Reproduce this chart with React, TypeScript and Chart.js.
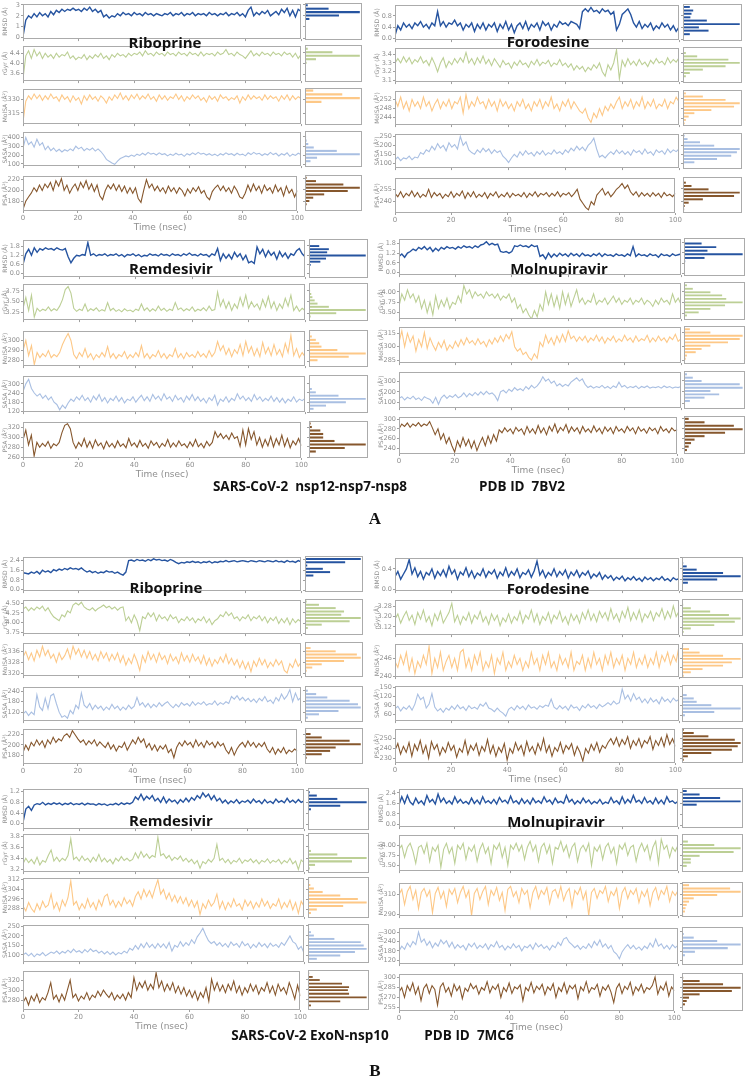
import React, { useEffect, useRef } from "react";
import { Chart, registerables } from "chart.js";
Chart.register(...registerables);

// ---------- shared axis labels / categories ----------
const TIME_NS = Array.from({ length: 101 }, (_, i) => i);
const Y_TITLES = ["RMSD (Å)", "rGyr (Å)", "MolSA (Å²)", "SASA (Å²)", "PSA (Å²)"];
const X_TICKS = [0, 20, 40, 60, 80, 100];
const COLORS = ["#2654a0", "#bccf95", "#fdc887", "#a9bfe2", "#86572d"];
const WIDTHS = [1.4, 1.1, 1.1, 1.1, 1.1];

// ---------- A: nsp12-nsp7-nsp8 / Riboprine ----------
const A1_RMSD = [0.1,1.6,2.0,1.8,2.2,1.9,2.3,2.0,2.2,1.9,2.4,2.1,2.5,2.3,2.6,2.4,2.6,2.5,2.7,2.5,2.6,2.4,2.7,2.5,2.8,2.4,2.6,2.3,2.5,1.9,2.1,1.8,2.0,1.9,2.2,2.0,2.3,2.1,2.2,2.0,2.3,2.1,2.2,2.0,2.3,2.1,2.2,2.0,2.2,2.1,2.0,2.2,2.1,2.3,2.0,2.2,2.1,2.3,2.0,2.2,2.1,2.3,2.0,2.2,2.1,2.2,2.0,2.3,2.1,2.2,2.0,2.2,2.1,2.3,2.0,2.2,2.1,2.3,2.0,2.2,1.9,2.5,2.8,2.0,2.3,2.1,2.4,2.2,2.5,2.0,2.2,2.4,2.1,2.6,2.3,2.7,2.0,2.5,1.9,2.6,2.4];
const A1_RGYR = [3.4,4.3,4.5,4.2,4.55,4.3,4.45,4.2,4.4,4.25,4.35,4.2,4.4,4.25,4.35,4.3,4.45,4.2,4.3,4.15,4.25,4.2,4.35,4.15,4.3,4.2,4.35,4.25,4.4,4.2,4.3,4.15,4.35,4.25,4.4,4.3,4.35,4.25,4.4,4.3,4.4,4.35,4.45,4.3,4.5,4.35,4.4,4.3,4.45,4.35,4.4,4.3,4.45,4.35,4.4,4.3,4.45,4.35,4.4,4.3,4.45,4.35,4.4,4.3,4.45,4.3,4.4,4.35,4.4,4.3,4.45,4.35,4.4,4.55,4.35,4.4,4.3,4.45,4.35,4.3,4.2,4.35,4.5,4.3,4.4,4.3,4.45,4.35,4.4,4.3,4.45,4.35,4.4,4.3,4.45,4.35,4.4,4.25,4.4,4.2,4.35];
const A1_MOLSA = [305,328,334,330,336,331,335,329,334,330,336,331,333,328,335,330,333,327,334,329,332,325,334,329,335,330,333,328,334,331,326,333,329,335,331,337,330,334,329,335,331,336,330,334,331,336,330,333,328,335,330,334,329,333,331,336,330,334,328,333,330,335,331,334,329,332,327,334,330,333,328,335,331,333,329,332,330,334,326,333,329,335,330,334,331,333,329,335,330,334,331,333,328,334,330,335,329,334,330,333,331];
const A1_SASA = [280,400,320,350,290,380,310,340,260,300,250,280,240,265,235,260,245,270,250,300,270,290,250,275,255,280,245,270,240,200,150,130,110,95,130,160,175,190,180,200,185,210,195,220,200,230,210,220,200,225,205,215,190,210,195,220,200,210,185,215,200,225,205,230,210,220,200,215,195,210,190,215,200,225,205,215,195,220,200,210,190,225,205,230,210,220,195,215,200,230,205,220,190,215,200,225,185,210,195,220,205];
const A1_PSA = [165,180,188,195,205,198,210,200,212,205,215,200,218,208,222,200,210,195,205,212,200,215,205,218,202,212,198,210,190,183,200,210,203,212,200,210,198,208,195,205,195,205,185,178,200,220,205,212,200,208,198,205,195,208,198,205,195,205,200,190,203,195,205,198,207,195,200,188,183,198,205,210,200,208,198,205,195,208,200,188,185,195,210,198,212,200,208,195,210,200,205,195,210,198,205,190,208,195,202,188,200];
const A1_RMSD_BINS = [1.7,2.0,2.3,2.6,2.9];
const A1_RMSD_COUNTS = [8,62,100,43,5];
const A1_RGYR_BINS = [4.03,4.16,4.29,4.42,4.55];
const A1_RGYR_COUNTS = [3,20,100,50,5];
const A1_MOLSA_BINS = [327,331,335,339];
const A1_MOLSA_COUNTS = [30,100,68,15];
const A1_SASA_BINS = [100,137,174,211,248,285,322,359,396];
const A1_SASA_COUNTS = [2,10,22,100,58,16,6,3,2];
const A1_PSA_BINS = [174,180,186,192,198,204,210,216,222];
const A1_PSA_COUNTS = [3,8,15,35,78,100,70,20,3];
const A1_TICKS = [[0,1,2,3],[3.6,4.0,4.4],[315,330],[100,200,300,400],[180,200,220]];

// ---------- A: Forodesine ----------
const A2_RMSD = [0.1,0.45,0.3,0.55,0.4,0.5,0.35,0.55,0.45,0.6,0.4,0.5,0.35,0.55,0.45,0.95,0.45,0.6,0.4,0.55,0.5,0.65,0.45,0.55,0.3,0.5,0.4,0.55,0.25,0.5,0.35,0.55,0.3,0.5,0.4,0.55,0.25,0.5,0.35,0.6,0.3,0.5,0.2,0.45,0.55,0.35,0.6,0.3,0.5,0.4,0.55,0.3,0.6,0.45,0.55,0.3,0.5,0.4,0.6,0.5,0.55,0.45,0.6,0.55,0.5,0.35,0.95,1.05,0.95,1.1,0.95,1.0,0.9,1.05,0.95,1.0,0.85,0.95,0.3,0.5,0.85,0.95,1.05,0.85,0.55,0.4,0.6,0.35,0.5,0.4,0.55,0.3,0.45,0.35,0.55,0.4,0.5,0.3,0.45,0.25,0.4];
const A2_RGYR = [3.3,3.35,3.3,3.37,3.31,3.36,3.29,3.34,3.31,3.37,3.3,3.33,3.27,3.36,3.29,3.2,3.3,3.36,3.25,3.32,3.28,3.35,3.3,3.36,3.31,3.42,3.3,3.35,3.28,3.36,3.3,3.38,3.29,3.34,3.27,3.35,3.3,3.25,3.33,3.28,3.3,3.24,3.31,3.27,3.33,3.28,3.3,3.25,3.32,3.28,3.34,3.27,3.31,3.29,3.33,3.26,3.3,3.28,3.34,3.27,3.3,3.25,3.29,3.22,3.27,3.23,3.26,3.2,3.25,3.22,3.28,3.24,3.3,3.2,3.15,3.28,3.22,3.3,3.45,3.12,3.33,3.26,3.35,3.28,3.32,3.27,3.34,3.28,3.31,3.26,3.33,3.29,3.35,3.3,3.32,3.28,3.36,3.3,3.34,3.31,3.36];
const A2_MOLSA = [252,249,253,248,251,247,252,249,251,248,253,249,251,247,250,252,248,251,249,252,248,251,250,253,246,254,248,251,249,253,250,251,248,252,249,251,247,252,249,251,248,250,247,251,249,252,248,250,247,251,249,252,248,251,249,253,248,250,247,251,249,252,248,251,249,247,246,248,244,242,246,244,248,245,249,247,250,248,251,253,248,251,249,252,248,251,249,253,248,251,249,252,248,250,249,252,248,251,250,253,251];
const A2_SASA = [120,135,115,130,125,140,120,135,130,160,150,175,165,195,175,210,185,200,170,215,190,205,180,250,200,220,175,160,150,175,160,185,165,180,155,175,160,170,140,125,105,130,150,135,165,145,170,150,160,140,165,150,170,145,160,150,175,155,165,150,175,160,185,170,195,175,190,170,200,215,240,180,135,145,130,150,165,150,175,155,170,150,165,145,175,160,170,150,180,155,165,145,175,160,170,150,180,160,175,165,180];
const A2_PSA = [250,246,252,245,250,247,253,246,251,245,249,246,255,245,251,247,250,244,249,246,252,245,250,247,253,244,251,246,252,245,249,246,251,244,250,247,252,245,249,246,251,245,250,247,249,246,251,245,250,247,252,246,250,248,251,246,250,247,252,246,250,248,251,246,250,255,243,238,233,230,240,236,248,252,256,248,252,246,250,255,258,262,256,260,252,248,252,246,251,247,250,246,251,247,250,245,251,247,249,246,250];
const A2_RMSD_BINS = [0.17,0.29,0.40,0.51,0.63,0.74,0.86,0.97,1.09];
const A2_RMSD_COUNTS = [12,45,28,100,42,13,15,18,12];
const A2_RGYR_BINS = [3.155,3.19,3.227,3.263,3.3,3.335,3.371,3.407];
const A2_RGYR_COUNTS = [5,12,35,75,100,80,25,5];
const A2_MOLSA_BINS = [241.9,243.3,244.7,246.1,247.4,248.8,250.2,251.6,253,254.3];
const A2_MOLSA_COUNTS = [3,5,10,20,50,90,100,75,35,5];
const A2_SASA_BINS = [109,126,144,162,179,197,215,232,250];
const A2_SASA_COUNTS = [20,60,85,95,100,55,30,8,3];
const A2_PSA_BINS = [230.5,234.4,238.4,242.4,246.3,250.3,254.2,258.2,262.1];
const A2_PSA_COUNTS = [2,3,10,35,90,100,45,15,5];
const A2_TICKS = [[0.0,0.4,0.8],[3.1,3.2,3.3,3.4],[244,248,252],[100,150,200,250],[240,255]];

// ---------- A: Remdesivir ----------
const A3_RMSD = [0.6,1.3,1.6,1.2,1.7,1.4,1.65,1.55,1.7,1.6,1.65,1.55,1.7,1.6,1.55,1.65,1.1,0.7,1.0,1.2,1.15,1.25,1.2,2.05,1.2,1.3,1.15,1.25,1.2,1.3,1.15,1.25,1.2,1.3,1.15,1.25,1.1,1.25,1.2,1.3,1.15,1.25,1.1,1.2,1.15,1.3,1.2,1.25,1.15,1.3,1.2,1.25,1.15,1.3,1.2,1.25,1.15,1.3,1.2,1.35,1.2,1.25,1.15,1.3,1.2,1.25,1.1,1.3,1.2,1.65,0.85,1.3,1.0,1.25,0.95,1.4,1.1,1.3,0.9,1.2,0.7,0.8,0.65,1.75,1.3,1.6,1.1,1.5,1.2,1.4,0.95,1.45,1.1,1.35,1.0,1.3,1.2,1.5,1.65,1.3,1.1];
const A3_RGYR = [3.35,3.6,3.3,3.65,3.15,3.35,3.28,3.33,3.3,3.38,3.29,3.34,3.3,3.4,3.55,3.78,3.85,3.7,3.35,3.28,3.33,3.3,3.45,3.28,3.34,3.3,3.36,3.28,3.32,3.29,3.48,3.3,3.35,3.28,3.32,3.27,3.34,3.29,3.31,3.27,3.33,3.3,3.45,3.3,3.36,3.28,3.34,3.29,3.4,3.3,3.35,3.28,3.33,3.3,3.48,3.32,3.36,3.29,3.34,3.3,3.38,3.28,3.33,3.3,3.36,3.29,3.4,3.3,3.32,3.72,3.4,3.55,3.35,3.5,3.3,3.45,3.35,3.6,3.4,3.65,3.35,3.5,3.38,3.45,3.32,3.55,3.38,3.62,3.35,3.5,3.3,3.45,3.35,3.58,3.4,3.65,3.3,3.4,3.28,3.35,3.3];
const A3_MOLSA = [290,300,285,295,276,288,283,287,284,290,283,286,284,288,296,302,307,300,286,282,288,284,292,283,287,281,286,283,288,284,294,283,287,282,286,284,289,282,286,283,288,284,295,283,287,282,286,284,290,283,287,282,286,284,292,283,287,282,288,284,286,283,289,284,287,283,290,284,288,299,290,295,286,292,284,291,287,296,285,299,288,294,285,292,284,298,287,293,285,296,286,291,284,297,288,305,285,292,283,288,284];
const A3_SASA = [250,300,330,270,240,220,235,205,225,195,215,180,165,130,160,140,175,200,185,215,195,225,190,210,180,220,195,230,185,210,175,205,190,220,185,210,175,200,190,215,180,205,225,190,215,185,230,200,220,190,235,200,215,185,225,195,210,180,220,195,230,190,215,185,205,175,210,190,225,160,200,185,215,180,205,190,235,200,220,190,210,185,230,195,215,185,205,190,220,185,210,180,205,175,200,185,215,180,200,190,205];
const A3_PSA = [295,315,285,305,262,290,280,288,282,292,278,287,283,290,310,325,328,318,290,278,290,282,298,280,292,278,295,283,289,277,292,281,288,279,293,282,287,279,298,283,289,280,294,282,288,278,293,284,290,279,288,282,296,280,289,281,293,283,287,279,291,282,296,281,288,279,292,283,290,312,300,308,298,305,296,309,298,302,282,315,285,318,296,312,285,300,280,296,283,302,281,298,285,305,282,298,279,293,285,298,283];
const A3_RMSD_BINS = [0.58,0.78,0.98,1.18,1.38,1.58,1.78];
const A3_RMSD_COUNTS = [3,20,30,100,32,35,18];
const A3_RGYR_BINS = [3.18,3.25,3.32,3.39,3.46,3.53,3.6,3.67,3.74];
const A3_RGYR_COUNTS = [3,48,100,35,15,10,6,4,2];
const A3_MOLSA_BINS = [281,284.2,287.4,290.6,293.8,297,300.2,303.4,306.6];
const A3_MOLSA_COUNTS = [15,70,100,50,22,18,12,5,2];
const A3_SASA_BINS = [141,161,182,203,223,244,265];
const A3_SASA_COUNTS = [8,30,65,100,52,12,5];
const A3_PSA_BINS = [271,278,285,292,299,306,313,320,327];
const A3_PSA_COUNTS = [12,63,100,45,25,25,20,5,3];
const A3_TICKS = [[0.0,0.6,1.2,1.8],[3.25,3.5,3.75],[280,290,300],[120,180,240,300],[260,280,300,320]];

// ---------- A: Molnupiravir ----------
const A4_RMSD = [1.0,1.15,0.95,1.2,1.3,1.45,1.35,1.55,1.45,1.6,1.4,1.55,1.3,1.5,1.35,1.55,1.45,1.6,1.5,1.55,1.45,1.6,1.5,1.65,1.55,1.6,1.5,1.65,1.55,1.7,1.75,1.9,1.7,1.8,1.7,1.75,1.3,1.25,1.3,1.2,1.3,1.65,1.6,1.7,1.6,1.65,1.55,1.7,1.6,1.65,1.0,1.1,0.85,1.2,0.95,1.15,1.0,1.2,1.05,1.15,1.0,1.2,1.05,1.15,1.0,1.2,1.05,1.1,1.0,1.15,1.05,1.2,1.0,1.15,1.05,1.1,1.0,1.15,1.05,1.1,1.0,1.15,1.05,1.6,1.0,1.15,1.05,1.1,1.0,1.15,1.05,1.1,0.95,1.15,1.05,1.1,1.0,1.15,1.05,1.1,1.15];
const A4_RGYR = [3.65,3.95,3.8,4.05,3.85,3.95,3.75,3.9,3.6,3.8,3.5,3.75,3.45,3.9,3.6,3.8,3.65,3.85,3.6,3.75,3.7,3.9,3.75,4.15,3.95,4.05,3.85,4.0,3.9,3.95,3.85,4.0,3.9,3.95,3.85,3.95,3.8,3.9,3.85,3.95,3.75,3.85,3.6,3.7,3.5,3.6,3.45,3.35,3.55,3.4,3.7,3.55,4.0,3.7,3.95,3.65,3.9,3.6,4.0,3.7,3.95,3.65,3.85,4.05,3.75,3.85,3.7,3.8,3.75,3.95,3.7,3.8,3.75,3.85,3.7,3.8,3.9,3.75,3.85,3.7,3.8,3.75,3.85,3.7,3.8,3.75,3.85,3.7,3.8,3.75,3.65,3.8,3.7,3.85,3.75,3.8,3.7,3.95,3.75,3.85,3.7];
const A4_MOLSA = [305,318,300,315,305,312,295,308,300,316,298,310,302,296,305,299,307,296,302,298,306,300,308,302,310,304,307,302,309,303,306,300,308,303,310,305,312,306,314,309,317,300,295,298,291,294,288,285,292,287,305,300,313,304,310,302,312,305,314,306,318,309,312,306,311,307,312,305,310,307,313,306,311,304,310,307,312,305,309,306,313,307,310,305,312,306,309,307,313,305,310,306,312,307,310,305,311,308,314,306,309];
const A4_SASA = [140,155,125,150,135,160,130,145,120,155,140,130,95,150,85,145,170,140,165,150,175,145,160,190,155,185,165,195,170,200,175,205,180,190,165,120,200,215,190,225,205,240,215,230,210,250,225,260,235,255,290,340,300,320,280,300,255,275,250,270,255,290,310,330,300,320,270,240,255,235,250,240,260,235,250,230,255,240,290,245,260,235,250,240,255,230,250,240,255,235,245,240,250,235,255,240,250,235,245,240,250];
const A4_PSA = [280,290,285,292,283,290,286,293,285,290,287,295,282,268,280,258,270,250,262,245,232,255,242,262,245,258,240,255,235,250,262,245,265,250,268,255,278,272,282,274,280,270,283,275,280,268,285,272,280,270,287,272,282,268,285,275,290,272,283,276,289,272,284,275,282,270,285,274,280,272,286,274,281,270,284,275,282,270,285,275,280,272,285,276,282,270,284,275,280,271,283,276,281,270,285,275,280,272,282,276,278];
const A4_RMSD_BINS = [0.72,0.91,1.12,1.33,1.54,1.75];
const A4_RMSD_COUNTS = [2,35,100,40,55,30];
const A4_RGYR_BINS = [3.45,3.52,3.6,3.68,3.75,3.83,3.91,3.98,4.06,4.14];
const A4_RGYR_COUNTS = [5,25,45,70,100,72,65,45,15,5];
const A4_MOLSA_BINS = [287.1,290.6,294.2,297.7,301.2,304.8,308.3,311.8,315.4,318.9];
const A4_MOLSA_COUNTS = [3,5,20,30,45,75,95,100,45,10];
const A4_SASA_BINS = [121,150,179,209,238,268,297,326,356];
const A4_SASA_COUNTS = [10,35,60,45,100,95,30,15,5];
const A4_PSA_BINS = [236,243,250,257,264,271,278,285,292,299];
const A4_PSA_COUNTS = [5,8,12,18,35,70,100,85,35,8];
const A4_TICKS = [[0.0,0.6,1.2,1.8],[3.5,3.75,4.0],[285,300,315],[100,200,300],[240,260,280,300]];

// ---------- B: ExoN-nsp10 / Riboprine ----------
const B1_RMSD = [1.4,1.35,1.3,1.45,1.35,1.5,1.3,1.6,1.45,1.55,1.4,1.65,1.55,1.7,1.6,1.75,1.65,1.8,1.7,1.75,1.65,1.8,1.6,1.45,1.55,1.4,1.5,1.35,1.45,1.4,1.55,1.45,1.5,1.35,1.45,1.3,1.2,1.45,2.4,2.45,2.35,2.5,2.4,2.45,2.35,2.5,2.4,2.55,2.45,2.5,2.4,2.45,2.35,2.5,2.4,2.25,2.15,2.25,2.2,2.3,2.25,2.35,2.25,2.3,2.2,2.3,2.25,2.35,2.2,2.3,2.25,2.35,2.3,2.4,2.3,2.35,2.4,2.3,2.35,2.4,2.35,2.3,2.4,2.35,2.3,2.4,2.35,2.3,2.4,2.35,2.3,2.4,2.3,2.35,2.25,2.4,2.3,2.35,2.25,2.4,2.3];
const B1_RGYR = [4.35,4.4,4.3,4.38,4.32,4.4,4.35,4.42,4.3,4.38,4.25,4.15,4.1,4.05,4.2,4.15,4.3,4.25,4.45,4.5,4.45,4.52,4.4,4.35,4.32,4.38,4.3,4.36,4.4,4.45,4.38,4.42,4.35,4.4,4.32,4.38,4.4,4.05,4.15,4.0,4.2,4.05,3.8,4.15,4.1,4.25,4.15,4.25,4.05,4.2,4.1,4.15,4.05,4.2,4.1,4.15,4.0,4.1,4.05,4.15,4.05,4.12,4.0,4.1,4.05,4.15,4.0,4.1,3.95,4.05,4.1,4.2,4.15,4.28,4.18,4.25,4.1,4.15,4.05,4.15,4.1,4.2,4.05,4.15,4.1,4.18,4.05,4.15,4.0,4.12,4.05,4.15,3.98,4.1,4.0,4.12,3.95,4.1,4.0,4.08,4.02];
const B1_MOLSA = [332,336,330,335,329,337,332,340,333,337,331,334,328,335,330,333,338,331,340,334,338,332,337,331,336,330,334,329,336,331,335,329,334,330,335,328,333,326,331,327,334,329,322,333,328,336,330,334,328,335,330,333,327,334,329,332,327,335,329,333,328,334,329,332,327,333,326,331,325,330,327,332,328,334,327,331,326,330,324,329,323,328,321,329,325,331,326,330,324,328,325,330,326,329,322,320,327,324,330,325,328];
const B1_SASA = [110,125,100,120,105,220,150,130,200,140,215,225,170,120,90,100,85,130,110,160,140,230,160,145,170,135,160,140,155,130,150,135,165,140,155,130,150,135,160,140,155,205,160,175,150,170,145,165,150,175,155,170,180,160,145,165,150,175,160,170,155,180,160,175,165,180,160,170,165,185,160,175,165,180,170,210,195,215,190,205,185,200,180,195,175,200,185,210,180,190,170,205,185,225,195,215,250,180,230,190,205];
const B1_PSA = [185,200,190,205,198,210,200,208,195,210,202,215,205,212,208,218,222,215,228,220,212,205,210,200,208,202,210,198,206,200,195,205,192,200,188,198,195,205,190,200,210,202,215,205,212,195,203,190,200,188,198,192,200,185,192,175,195,205,198,208,200,205,195,210,198,205,195,208,200,205,195,206,198,203,190,183,195,180,192,200,205,196,208,198,205,195,203,197,205,192,185,195,182,192,185,195,183,190,186,192,188];
const B1_RMSD_BINS = [1.17,1.44,1.7,1.96,2.22,2.48];
const B1_RMSD_COUNTS = [15,45,32,4,72,100];
const B1_RGYR_BINS = [3.88,3.96,4.04,4.12,4.2,4.28,4.36,4.44,4.52];
const B1_RGYR_COUNTS = [5,30,80,100,65,70,55,25,3];
const B1_MOLSA_BINS = [322.1,324.4,326.7,329.0,331.3,333.6,335.9,338.2];
const B1_MOLSA_COUNTS = [3,13,30,70,100,93,55,10];
const B1_SASA_BINS = [92,110.5,129,147.5,166,184.5,203,221.5,240];
const B1_SASA_COUNTS = [5,25,60,100,95,80,40,20,5];
const B1_PSA_BINS = [174.8,181.3,187.7,194.2,200.6,207,213.5,220,226.5];
const B1_PSA_COUNTS = [3,30,45,55,100,80,30,10,2];
const B1_TICKS = [[0.0,0.8,1.6,2.4],[3.75,4.0,4.25,4.5],[320,328,336],[120,180,240],[180,200,220]];

// ---------- B: Forodesine ----------
const B2_RMSD = [0.25,0.35,0.2,0.3,0.4,0.58,0.3,0.42,0.25,0.35,0.2,0.33,0.28,0.4,0.22,0.35,0.27,0.38,0.25,0.45,0.3,0.38,0.2,0.34,0.28,0.42,0.25,0.36,0.22,0.32,0.27,0.4,0.24,0.35,0.3,0.38,0.22,0.34,0.27,0.42,0.25,0.35,0.28,0.4,0.23,0.33,0.29,0.38,0.24,0.36,0.55,0.28,0.37,0.23,0.33,0.27,0.4,0.25,0.35,0.28,0.38,0.22,0.34,0.27,0.37,0.24,0.33,0.28,0.36,0.22,0.3,0.25,0.33,0.2,0.28,0.22,0.27,0.18,0.24,0.2,0.26,0.17,0.23,0.19,0.25,0.18,0.22,0.16,0.24,0.19,0.23,0.17,0.22,0.19,0.25,0.18,0.21,0.16,0.23,0.19,0.21];
const B2_RGYR = [3.18,3.22,3.15,3.2,3.24,3.17,3.21,3.14,3.23,3.18,3.25,3.16,3.2,3.13,3.22,3.17,3.24,3.15,3.19,3.23,3.3,3.16,3.21,3.14,3.2,3.17,3.23,3.15,3.21,3.18,3.24,3.16,3.2,3.14,3.22,3.17,3.21,3.13,3.19,3.16,3.22,3.15,3.2,3.17,3.24,3.15,3.21,3.18,3.25,3.16,3.22,3.14,3.2,3.17,3.23,3.15,3.21,3.18,3.24,3.16,3.2,3.14,3.22,3.17,3.21,3.15,3.23,3.18,3.25,3.17,3.22,3.16,3.24,3.19,3.23,3.17,3.26,3.18,3.22,3.16,3.24,3.19,3.27,3.17,3.23,3.18,3.25,3.16,3.22,3.19,3.24,3.17,3.23,3.2,3.26,3.18,3.24,3.19,3.28,3.2,3.24];
const B2_MOLSA = [245,243,247,244,248,242,246,241,245,243,247,244,250,241,246,243,248,242,245,247,243,246,242,248,249,243,246,242,247,244,248,242,245,243,247,241,246,244,248,242,245,243,247,244,246,242,245,243,248,244,246,242,247,244,248,243,245,242,247,244,246,243,248,242,245,244,247,242,246,243,248,244,246,242,247,244,248,243,246,244,247,242,246,244,248,243,246,244,247,243,246,244,248,243,247,245,248,244,247,245,250];
const B2_SASA = [80,88,72,85,78,90,75,95,128,110,118,82,95,130,85,72,80,68,82,75,88,78,92,80,86,74,90,80,85,78,95,88,100,82,78,70,82,72,65,55,78,85,75,90,80,88,76,92,82,86,78,90,84,92,88,112,85,78,90,80,88,75,92,82,86,74,90,82,95,84,90,80,94,86,92,100,92,105,95,100,145,112,125,105,130,110,118,100,112,98,115,102,110,96,118,104,112,100,115,105,110];
const B2_PSA = [238,245,234,242,236,246,232,244,238,248,235,243,230,247,239,244,233,241,236,246,238,243,231,240,236,248,234,243,238,245,233,242,237,249,235,243,232,241,236,245,228,240,235,246,238,243,233,247,237,242,234,245,238,250,236,243,232,241,237,246,235,243,239,245,233,242,236,227,240,235,244,238,246,236,243,240,246,250,244,251,242,249,244,252,240,248,243,250,241,248,245,252,239,248,243,251,242,254,244,250,242];
const B2_RMSD_BINS = [0.14,0.2,0.26,0.32,0.38,0.44,0.5];
const B2_RMSD_COUNTS = [10,60,100,70,25,8,2];
const B2_RGYR_BINS = [3.088,3.113,3.137,3.162,3.186,3.211,3.236,3.26,3.285];
const B2_RGYR_COUNTS = [3,15,55,90,100,80,48,15,2];
const B2_MOLSA_BINS = [240.5,241.6,242.6,243.7,244.7,245.8,246.8,247.8,248.9,249.9];
const B2_MOLSA_COUNTS = [3,15,35,70,85,100,70,30,12,2];
const B2_SASA_BINS = [60,70.6,81.2,91.8,102.4,113,123.6];
const B2_SASA_COUNTS = [5,55,100,50,25,20,8];
const B2_PSA_BINS = [228.3,231.7,235,238.3,241.7,245,248.3,251.7,255,258.3];
const B2_PSA_COUNTS = [3,10,50,85,95,100,90,45,20,3];
const B2_TICKS = [[0.0,0.2,0.4,0.6],[3.12,3.2,3.28],[240,243,246,249],[60,90,120,150],[230,240,250]];

// ---------- B: Remdesivir ----------
const B3_RMSD = [0.05,0.55,0.65,0.5,0.7,0.75,0.72,0.8,0.7,0.76,0.72,0.78,0.73,0.77,0.7,0.76,0.72,0.78,0.71,0.75,0.72,0.77,0.7,0.76,0.73,0.74,0.69,0.75,0.71,0.74,0.68,0.73,0.71,0.76,0.7,0.78,0.72,0.77,0.74,0.8,1.0,0.9,1.1,0.88,1.02,0.92,1.05,0.85,0.95,0.8,1.0,0.78,0.92,0.82,0.88,0.75,0.9,0.8,0.95,0.82,0.98,0.88,1.05,0.95,1.15,1.0,1.1,0.9,1.05,0.85,0.95,0.78,0.88,0.75,0.85,0.78,0.9,0.76,0.85,0.8,0.88,0.77,0.92,0.8,0.86,0.75,0.9,0.78,0.84,0.76,0.92,0.8,0.86,0.78,0.95,0.8,0.88,0.78,0.9,0.8,0.85];
const B3_RGYR = [3.3,3.4,3.32,3.38,3.3,3.42,3.28,3.36,3.33,3.45,3.55,3.35,3.42,3.34,3.4,3.36,3.45,3.75,3.38,3.42,3.35,3.44,3.36,3.4,3.33,3.42,3.35,3.47,3.34,3.4,3.33,3.38,3.3,3.4,3.35,3.43,3.36,3.4,3.35,3.38,3.5,3.4,3.52,3.42,3.48,3.4,3.45,3.42,3.78,3.45,3.48,3.4,3.45,3.36,3.42,3.38,3.44,3.35,3.4,3.33,3.38,3.3,3.36,3.22,3.34,3.3,3.38,3.33,3.4,3.65,3.36,3.4,3.32,3.38,3.3,3.36,3.33,3.4,3.31,3.37,3.34,3.39,3.32,3.37,3.3,3.36,3.33,3.39,3.31,3.36,3.33,3.38,3.3,3.36,3.32,3.4,3.3,3.35,3.2,3.37,3.32];
const B3_MOLSA = [290,286,293,288,285,292,287,294,289,291,300,288,293,286,295,290,297,311,291,294,287,292,288,296,289,293,287,295,290,298,300,291,295,289,294,290,297,292,295,290,298,302,296,304,298,303,297,305,312,300,304,296,301,294,299,293,298,292,297,290,295,289,294,283,292,288,295,290,293,300,288,294,287,293,289,296,290,292,287,295,290,294,288,293,289,296,290,294,288,292,290,296,288,293,289,295,287,293,284,294,290];
const B3_SASA = [100,110,95,108,90,105,98,112,95,105,115,108,120,105,118,110,125,112,130,115,122,110,128,115,132,118,125,110,120,105,118,102,115,100,112,105,120,110,135,125,150,130,158,138,165,140,155,135,160,140,158,135,165,120,150,140,170,145,165,150,180,160,195,215,240,205,175,160,170,150,165,145,160,140,168,150,160,140,170,148,160,135,155,140,165,145,158,138,162,145,155,140,165,150,175,200,170,160,130,145,110];
const B3_PSA = [275,285,270,288,278,292,275,285,280,295,315,282,290,276,292,280,300,320,285,292,278,288,282,295,280,290,285,298,288,300,292,285,295,280,290,283,292,280,295,285,325,300,315,305,318,300,312,302,335,305,318,298,312,300,315,295,308,292,305,288,300,285,298,280,295,285,305,278,322,300,315,298,310,295,312,300,318,295,308,290,305,295,312,298,310,292,305,298,315,295,308,290,312,298,305,292,315,300,282,310,288];
const B3_RMSD_BINS = [0.54,0.67,0.79,0.91,1.03,1.15];
const B3_RMSD_COUNTS = [5,55,100,50,15,3];
const B3_RGYR_BINS = [3.23,3.29,3.35,3.41,3.47,3.53,3.59];
const B3_RGYR_COUNTS = [3,12,75,100,50,5,2];
const B3_MOLSA_BINS = [284.8,287.6,290.4,293.2,296,298.8,301.6,304.4,307.2,310];
const B3_MOLSA_COUNTS = [5,15,60,100,85,55,25,10,4,2];
const B3_SASA_BINS = [83,100,117,133,150,167,183,200,217,233];
const B3_SASA_COUNTS = [15,55,80,100,95,90,45,10,5,2];
const B3_PSA_BINS = [269,277,285,292,299,305,312,319,325,332];
const B3_PSA_COUNTS = [5,55,100,70,68,70,58,20,8,2];
const B3_TICKS = [[0.0,0.4,0.8,1.2],[3.2,3.4,3.6,3.8],[288,296,304,312],[100,150,200,250],[280,300,320]];

// ---------- B: Molnupiravir ----------
const B4_RMSD = [1.5,2.1,1.6,2.2,1.7,1.5,2.0,1.6,1.8,1.5,2.2,1.7,1.9,1.55,2.3,1.7,2.0,1.6,1.8,1.55,2.1,1.65,1.9,1.6,1.75,1.55,2.0,1.6,1.85,1.55,2.1,1.65,1.8,1.6,1.9,1.55,2.05,1.7,1.85,1.6,2.15,1.65,1.8,1.55,1.95,1.6,1.85,1.55,2.0,1.65,1.8,1.6,2.1,1.7,1.85,1.55,2.0,1.65,1.75,1.6,2.2,1.7,1.9,1.55,1.8,1.6,2.0,1.65,1.85,1.55,1.75,1.6,1.9,1.55,1.7,1.6,2.05,1.65,1.8,1.55,2.1,1.6,1.9,1.65,2.2,1.7,1.85,1.6,2.05,1.65,1.8,1.55,2.0,1.6,1.85,1.55,2.1,1.7,1.8,1.6,1.75];
const B4_RGYR = [3.9,4.0,3.7,3.95,4.05,3.85,3.55,3.95,4.0,3.8,4.05,3.6,3.95,3.85,4.0,3.45,3.9,4.05,3.8,3.95,3.55,4.0,3.9,4.05,3.65,3.95,3.85,4.0,3.6,3.9,4.05,3.8,3.95,3.55,4.0,3.9,4.05,3.7,3.95,3.5,4.0,3.9,4.05,3.85,4.0,3.65,3.95,4.1,3.85,4.0,3.6,3.95,4.05,3.8,4.0,3.55,3.95,3.9,4.1,3.85,4.0,3.7,3.95,4.05,3.6,3.9,4.0,3.85,4.05,3.5,3.95,3.85,4.0,3.65,3.95,4.05,3.8,3.95,3.55,4.0,3.9,4.05,3.75,3.95,4.0,3.6,3.9,4.05,3.85,4.0,3.65,3.95,4.1,3.55,4.15,3.9,4.0,3.7,3.95,3.85,4.0];
const B4_MOLSA = [310,315,300,313,318,305,314,296,312,316,308,314,292,311,317,306,313,298,315,310,316,302,312,318,307,314,289,311,316,305,313,318,300,314,309,317,304,312,294,315,318,308,313,302,316,310,314,297,312,318,306,314,310,317,301,313,315,307,318,304,312,316,298,314,310,317,305,313,289,312,316,306,314,311,318,303,313,309,316,296,312,317,306,314,310,316,302,313,308,315,299,312,317,305,314,310,318,303,313,309,314];
const B4_SASA = [180,210,190,230,205,240,220,300,235,255,215,240,200,230,210,250,225,245,205,235,195,220,200,215,185,225,205,230,195,215,200,225,190,220,205,240,200,215,185,210,195,225,200,215,180,210,200,220,190,230,205,220,195,210,185,215,200,235,215,255,265,235,220,200,215,190,210,195,225,200,240,215,250,205,225,195,215,175,160,130,175,200,220,195,215,190,205,185,210,195,230,205,255,210,225,195,215,190,220,200,215];
const B4_PSA = [278,285,270,288,280,292,275,286,265,284,290,276,288,282,258,286,292,278,285,272,290,280,287,268,284,279,291,283,288,275,285,281,294,277,287,282,290,270,285,279,292,276,286,283,289,265,285,280,293,277,287,282,290,274,286,281,291,270,285,279,292,276,288,283,289,268,286,280,294,277,285,282,290,272,286,281,289,278,262,284,291,276,287,282,293,274,286,280,290,277,285,282,288,301,275,287,281,293,272,286,280];
const B4_RMSD_BINS = [1.49,1.73,1.98,2.23,2.48];
const B4_RMSD_COUNTS = [25,100,65,30,8];
const B4_RGYR_BINS = [3.5,3.58,3.66,3.74,3.83,3.92,4.0,4.08];
const B4_RGYR_COUNTS = [8,15,15,30,88,100,55,10];
const B4_MOLSA_BINS = [290.6,293.7,296.8,299.9,303.0,306.1,309.2,312.3,315.4,318.5];
const B4_MOLSA_COUNTS = [2,5,6,8,12,20,60,100,82,12];
const B4_SASA_BINS = [155,176,198,220,241,262,284];
const B4_SASA_COUNTS = [5,22,78,100,60,20,3];
const B4_PSA_BINS = [259,264,269,274,279,284,289,294,299];
const B4_PSA_COUNTS = [5,8,12,30,85,100,70,30,2];
const B4_TICKS = [[0.0,0.8,1.6,2.4],[3.5,3.75,4.0],[290,300,310,320],[120,180,240,300],[255,270,285,300]];

// ---------- panel assembly (layout separate from data) ----------
type Panel = {
  name: string; nameX: number; nameY: number;
  plotL: number; plotR: number; histL: number; histR: number;
  rows: number[][]; ranges: number[][]; dec: number[];
  series: number[][]; bins: number[][]; counts: number[][]; ticks: number[][];
};

const PANELS: Panel[] = [
  { name: "Riboprine", nameX: 165, nameY: 42, plotL: 23, plotR: 301, histL: 305, histR: 362,
    rows: [[3,40],[45,82],[88,125],[131,167],[175,211]],
    ranges: [[-0.15,3.1],[3.31,4.69],[302.5,341.7],[74,463],[162,227]], dec: [0,1,0,0,0],
    series: [A1_RMSD,A1_RGYR,A1_MOLSA,A1_SASA,A1_PSA],
    bins: [A1_RMSD_BINS,A1_RGYR_BINS,A1_MOLSA_BINS,A1_SASA_BINS,A1_PSA_BINS],
    counts: [A1_RMSD_COUNTS,A1_RGYR_COUNTS,A1_MOLSA_COUNTS,A1_SASA_COUNTS,A1_PSA_COUNTS], ticks: A1_TICKS },
  { name: "Forodesine", nameX: 548, nameY: 41, plotL: 395, plotR: 679, histL: 683, histR: 742,
    rows: [[4,41],[47,83],[90,126],[133,169],[177,213]],
    ranges: [[-0.06,1.19],[3.082,3.472],[240.8,255.7],[73.5,264],[226.2,268.8]], dec: [1,1,0,0,0],
    series: [A2_RMSD,A2_RGYR,A2_MOLSA,A2_SASA,A2_PSA],
    bins: [A2_RMSD_BINS,A2_RGYR_BINS,A2_MOLSA_BINS,A2_SASA_BINS,A2_PSA_BINS],
    counts: [A2_RMSD_COUNTS,A2_RGYR_COUNTS,A2_MOLSA_COUNTS,A2_SASA_COUNTS,A2_PSA_COUNTS], ticks: A2_TICKS },
  { name: "Remdesivir", nameX: 171, nameY: 268, plotL: 23, plotR: 305, histL: 309, histR: 368,
    rows: [[239,278],[283,321],[330,367],[375,413],[421,458]],
    ranges: [[-0.26,2.23],[3.08,3.91],[274.6,309.5],[115,352],[258,332]], dec: [1,2,0,0,0],
    series: [A3_RMSD,A3_RGYR,A3_MOLSA,A3_SASA,A3_PSA],
    bins: [A3_RMSD_BINS,A3_RGYR_BINS,A3_MOLSA_BINS,A3_SASA_BINS,A3_PSA_BINS],
    counts: [A3_RMSD_COUNTS,A3_RGYR_COUNTS,A3_MOLSA_COUNTS,A3_SASA_COUNTS,A3_PSA_COUNTS], ticks: A3_TICKS },
  { name: "Molnupiravir", nameX: 559, nameY: 268, plotL: 399, plotR: 681, histL: 684, histR: 745,
    rows: [[238,276],[282,320],[326,364],[371,409],[416,454]],
    ranges: [[-0.14,2.07],[3.346,4.215],[281.5,322.4],[50,385],[228,304.7]], dec: [1,2,0,0,0],
    series: [A4_RMSD,A4_RGYR,A4_MOLSA,A4_SASA,A4_PSA],
    bins: [A4_RMSD_BINS,A4_RGYR_BINS,A4_MOLSA_BINS,A4_SASA_BINS,A4_PSA_BINS],
    counts: [A4_RMSD_COUNTS,A4_RGYR_COUNTS,A4_MOLSA_COUNTS,A4_SASA_COUNTS,A4_PSA_COUNTS], ticks: A4_TICKS },
  { name: "Riboprine", nameX: 166, nameY: 587, plotL: 23, plotR: 301, histL: 305, histR: 363,
    rows: [[556,592],[599,635],[642,677],[686,722],[728,764]],
    ranges: [[-0.13,2.71],[3.71,4.58],[317.7,342.5],[68.3,265.8],[162.6,231.6]], dec: [1,2,0,0,0],
    series: [B1_RMSD,B1_RGYR,B1_MOLSA,B1_SASA,B1_PSA],
    bins: [B1_RMSD_BINS,B1_RGYR_BINS,B1_MOLSA_BINS,B1_SASA_BINS,B1_PSA_BINS],
    counts: [B1_RMSD_COUNTS,B1_RGYR_COUNTS,B1_MOLSA_COUNTS,B1_SASA_COUNTS,B1_PSA_COUNTS], ticks: B1_TICKS },
  { name: "Forodesine", nameX: 548, nameY: 588, plotL: 395, plotR: 679, histL: 682, histR: 743,
    rows: [[557,592],[599,636],[643,678],[685,722],[728,763]],
    ranges: [[-0.03,0.612],[3.058,3.327],[239.8,250.8],[38.8,155.3],[225,260]], dec: [1,2,0,0,0],
    series: [B2_RMSD,B2_RGYR,B2_MOLSA,B2_SASA,B2_PSA],
    bins: [B2_RMSD_BINS,B2_RGYR_BINS,B2_MOLSA_BINS,B2_SASA_BINS,B2_PSA_BINS],
    counts: [B2_RMSD_COUNTS,B2_RGYR_COUNTS,B2_MOLSA_COUNTS,B2_SASA_COUNTS,B2_PSA_COUNTS], ticks: B2_TICKS },
  { name: "Remdesivir", nameX: 171, nameY: 820, plotL: 23, plotR: 304, histL: 308, histR: 369,
    rows: [[788,830],[833,873],[877,918],[924,963],[970,1010]],
    ranges: [[-0.2,1.3],[3.15,3.84],[280.8,313.6],[62,258],[260,338.7]], dec: [1,1,0,0,0],
    series: [B3_RMSD,B3_RGYR,B3_MOLSA,B3_SASA,B3_PSA],
    bins: [B3_RMSD_BINS,B3_RGYR_BINS,B3_MOLSA_BINS,B3_SASA_BINS,B3_PSA_BINS],
    counts: [B3_RMSD_COUNTS,B3_RGYR_COUNTS,B3_MOLSA_COUNTS,B3_SASA_COUNTS,B3_PSA_COUNTS], ticks: B3_TICKS },
  { name: "Molnupiravir", nameX: 556, nameY: 821, plotL: 399, plotR: 678, histL: 682, histR: 743,
    rows: [[788,828],[834,872],[882,917],[927,965],[973,1011]],
    ranges: [[-0.2,2.7],[3.355,4.26],[288.5,321.5],[95.5,326.6],[249,306]], dec: [1,2,0,0,0],
    series: [B4_RMSD,B4_RGYR,B4_MOLSA,B4_SASA,B4_PSA],
    bins: [B4_RMSD_BINS,B4_RGYR_BINS,B4_MOLSA_BINS,B4_SASA_BINS,B4_PSA_BINS],
    counts: [B4_RMSD_COUNTS,B4_RGYR_COUNTS,B4_MOLSA_COUNTS,B4_SASA_COUNTS,B4_PSA_COUNTS], ticks: B4_TICKS },
];

const PAD = 4;
const YW = 23;
const XH = 22;
const GRAY_TXT = "#8f8f8f";
const BOX = "#ababab";

const boxPlugin = {
  id: "box",
  afterDraw(c: any) {
    const { ctx, chartArea: a } = c;
    ctx.save();
    ctx.strokeStyle = BOX;
    ctx.lineWidth = 1;
    ctx.strokeRect(Math.round(a.left) + 0.5, Math.round(a.top) + 0.5, Math.round(a.right - a.left) - 1, Math.round(a.bottom - a.top) - 1);
    ctx.restore();
  },
};

function Row({ p, r }: { p: Panel; r: number }) {
  const lineRef = useRef<HTMLCanvasElement>(null);
  const histRef = useRef<HTMLCanvasElement>(null);
  const [top, bot] = p.rows[r];
  const last = r === 4;
  const bExtra = last ? XH : PAD;
  const lw = p.plotR - p.plotL + YW + PAD;
  const lh = bot - top + PAD + bExtra;
  const hw = p.histR - p.histL + 3 + PAD;

  useEffect(() => {
    const [ymin, ymax] = p.ranges[r];
    const tv = p.ticks[r];
    const dec = p.dec[r];
    const color = COLORS[r];
    const series = p.series[r];
    const line = new Chart(lineRef.current!, {
      type: "line",
      data: { datasets: [{ data: series.map((v, i) => ({ x: TIME_NS[i], y: v })), borderColor: color, borderWidth: WIDTHS[r], pointRadius: 0, tension: 0, fill: false }] },
      options: {
        animation: false, responsive: false, events: [],
        layout: { autoPadding: false, padding: { left: 0, top: PAD, right: PAD, bottom: 0 } },
        plugins: { legend: { display: false }, tooltip: { enabled: false } },
        scales: {
          x: {
            type: "linear", min: 0, max: 100,
            afterBuildTicks: (s: any) => { s.ticks = X_TICKS.map((v) => ({ value: v })); },
            afterFit: (s: any) => { s.height = bExtra; },
            ticks: { display: last, font: { size: 7, family: "DejaVu Sans" }, color: GRAY_TXT, padding: 1, maxRotation: 0, autoSkip: false },
            grid: { drawOnChartArea: false, tickLength: 2, color: "#a0a0a0" },
            border: { display: false },
            title: { display: last, text: "Time (nsec)", font: { size: 9, family: "DejaVu Sans" }, color: GRAY_TXT, padding: { top: 0, bottom: 0 } },
          },
          y: {
            type: "linear", min: ymin, max: ymax,
            afterBuildTicks: (s: any) => { s.ticks = tv.map((v) => ({ value: v })); },
            afterFit: (s: any) => { s.width = YW; },
            ticks: { font: { size: 6.5, family: "DejaVu Sans" }, color: GRAY_TXT, padding: 1, callback: (v: any) => Number(v).toFixed(dec) },
            grid: { drawOnChartArea: false, tickLength: 2, color: "#a0a0a0" },
            border: { display: false },
            title: { display: true, text: Y_TITLES[r], font: { size: 6, family: "DejaVu Sans" }, color: GRAY_TXT, padding: { top: 2, bottom: 0 } },
          },
        },
      },
      plugins: [boxPlugin],
    } as any);
    const bins = p.bins[r];
    const counts = p.counts[r];
    const hist = new Chart(histRef.current!, {
      type: "bar",
      data: { datasets: [{ data: bins.map((b, i) => ({ x: counts[i], y: b })), backgroundColor: color, borderWidth: 0, barPercentage: 0.6, categoryPercentage: 1 }] },
      options: {
        indexAxis: "y", animation: false, responsive: false, events: [],
        layout: { autoPadding: false, padding: { left: 0, top: PAD, right: PAD, bottom: bExtra } },
        plugins: { legend: { display: false }, tooltip: { enabled: false } },
        scales: {
          x: { type: "linear", min: 0, max: 104, display: false },
          y: {
            type: "linear", min: ymin, max: ymax, offset: false,
            afterBuildTicks: (s: any) => { s.ticks = tv.map((v) => ({ value: v })); },
            afterFit: (s: any) => { s.width = 3; },
            ticks: { display: false },
            grid: { drawOnChartArea: false, tickLength: 2, color: "#a0a0a0", offset: false },
            border: { display: false },
          },
        },
      },
      plugins: [boxPlugin],
    } as any);
    return () => { line.destroy(); hist.destroy(); };
  }, []);

  return (
    <>
      <canvas ref={lineRef} width={lw} height={lh} style={{ position: "absolute", left: p.plotL - YW, top: top - PAD, width: lw, height: lh }} />
      <canvas ref={histRef} width={hw} height={lh} style={{ position: "absolute", left: p.histL - 3, top: top - PAD, width: hw, height: lh }} />
    </>
  );
}

const labelStyle = (x: number, y: number, size: number, family: string): React.CSSProperties => ({
  position: "absolute", left: x, top: y, transform: "translate(-50%, -50%)", fontFamily: family,
  fontWeight: 700, fontSize: size, color: "#111", whiteSpace: "pre", lineHeight: 1,
});

export default function App() {
  return (
    <div style={{ position: "absolute", left: 0, top: 0, width: 748, height: 1080, background: "#fff", overflow: "hidden" }}>
      {PANELS.map((p, pi) => (
        <React.Fragment key={pi}>
          {[0, 1, 2, 3, 4].map((r) => <Row key={r} p={p} r={r} />)}
          <div style={labelStyle(p.nameX, p.nameY, 15, "'Open Sans', 'Noto Sans', sans-serif")}>{p.name}</div>
        </React.Fragment>
      ))}
      <div style={labelStyle(310, 487, 13.5, "'Open Sans', 'Noto Sans', sans-serif")}>SARS-CoV-2  nsp12-nsp7-nsp8</div>
      <div style={labelStyle(522, 487, 13.5, "'Open Sans', 'Noto Sans', sans-serif")}>PDB ID  7BV2</div>
      <div style={labelStyle(375, 518, 17, "'Liberation Serif', 'DejaVu Serif', serif")}>A</div>
      <div style={labelStyle(310, 1036, 13.5, "'Open Sans', 'Noto Sans', sans-serif")}>SARS-CoV-2 ExoN-nsp10</div>
      <div style={labelStyle(469, 1036, 13.5, "'Open Sans', 'Noto Sans', sans-serif")}>PDB ID  7MC6</div>
      <div style={labelStyle(375, 1070, 17, "'Liberation Serif', 'DejaVu Serif', serif")}>B</div>
    </div>
  );
}
